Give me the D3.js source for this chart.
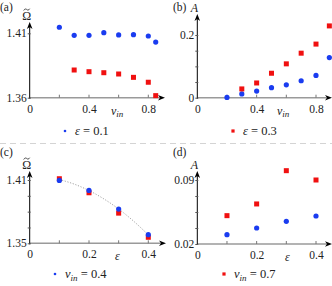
<!DOCTYPE html>
<html>
<head>
<meta charset="utf-8">
<script src="https://cdn.jsdelivr.net/npm/d3@7"></script>
<style>
  body { margin: 0; background: #fff; }
  svg text { font-family: "Liberation Serif", "DejaVu Serif", serif; fill: #222; }
</style>
</head>
<body>
<svg id="chart" width="332" height="286"></svg>
<script>
// panel (a) / (b): against v_in
const vinBlue = [0.2, 0.3, 0.4, 0.5, 0.6, 0.7, 0.8, 0.85]
const omegaBlue = [1.4147, 1.4084, 1.4084, 1.4105, 1.4087, 1.4089, 1.4079, 1.4032]
const vinRed = [0.3, 0.4, 0.5, 0.6, 0.7, 0.8, 0.85]
const omegaRed = [1.3815, 1.3802, 1.3794, 1.3784, 1.3758, 1.3720, 1.3616]

const vinB = [0.2, 0.3, 0.4, 0.5, 0.6, 0.7, 0.8, 0.89]
const ampBlue = [0.001, 0.012, 0.021, 0.032, 0.041, 0.054, 0.071, 0.128]
const vinBRed = [0.3, 0.4, 0.5, 0.6, 0.7, 0.8, 0.89]
const ampRed = [0.028, 0.047, 0.078, 0.108, 0.142, 0.171, 0.229]

// panel (c) / (d): against epsilon
const eps = [0.1, 0.2, 0.3, 0.4]
const omegaEpsBlue = [1.4096, 1.4001, 1.3824, 1.3582]
const omegaEpsRed = [1.4112, 1.3979, 1.3786, 1.3557]
const ampEpsBlue = [0.0302, 0.0375, 0.0448, 0.0506]
const ampEpsRed = [0.051, 0.0638, 0.1002, 0.09]

// fitted dotted curve in (c)
const fitEps = [0.1, 0.15, 0.2, 0.25, 0.3, 0.35, 0.4]
const fitOmega = [1.4105, 1.4061, 1.4000, 1.3921, 1.3825, 1.3711, 1.3580]

const svg = d3.select("#chart")
const BLUE = "#1a3cf0", RED = "#f01010", GREY = "#9a9a9a"

// separator
svg.append("line")
  .attr("x1", 0).attr("x2", 332).attr("y1", 143.5).attr("y2", 143.5)
  .attr("stroke", "#d4d4d4").attr("stroke-width", 1).attr("stroke-dasharray", "6,4")

function drawPanel(p) {
  const g = svg.append("g")
  const x = d3.scaleLinear().domain(p.xDomain).range(p.xRange)
  const y = d3.scaleLinear().domain(p.yDomain).range(p.yRange)
  const y0 = p.yRange[0], x0 = p.xRange[0]

  // x axis (grey line, grey ticks, black arrow)
  g.append("line").attr("x1", x0).attr("x2", p.xEnd - 5).attr("y1", y0).attr("y2", y0)
    .attr("stroke", GREY).attr("stroke-width", 1.6)
  const xAxis = d3.axisBottom(x).tickValues(p.xTicks).tickSize(0).tickPadding(7)
    .tickFormat(d => p.xLabels.includes(d) ? d3.format("")(d) : "")
  const xa = g.append("g").attr("transform", `translate(0,${y0})`).call(xAxis)
  xa.select(".domain").remove()
  xa.selectAll("text").attr("font-size", 11.5).attr("fill", "#333")
  g.selectAll(null).data(p.xTicks.filter(d => d > 0)).enter().append("line")
    .attr("x1", d => x(d)).attr("x2", d => x(d)).attr("y1", y0 - 3).attr("y2", y0)
    .attr("stroke", "#777").attr("stroke-width", 1)
  g.append("path")
    .attr("d", `M${p.xEnd},${y0} L${p.xEnd - 7},${y0 - 2.8} L${p.xEnd - 5},${y0} L${p.xEnd - 7},${y0 + 2.8} Z`)
    .attr("fill", "#000")

  // y axis (black line + arrow)
  g.append("line").attr("x1", x0).attr("x2", x0).attr("y1", y0 + 1).attr("y2", p.yEnd + 5)
    .attr("stroke", "#000").attr("stroke-width", 1)
  g.append("path")
    .attr("d", `M${x0},${p.yEnd} L${x0 - 2.8},${p.yEnd + 7} L${x0},${p.yEnd + 5} L${x0 + 2.8},${p.yEnd + 7} Z`)
    .attr("fill", "#000")
  const yAxis = d3.axisLeft(y).tickValues(p.yTicks).tickSize(3).tickPadding(1)
    .tickFormat(d => p.yLabels.includes(d) ? d3.format(p.yFmt)(d) : "")
  const ya = g.append("g").attr("transform", `translate(${x0 + 1},0)`).call(yAxis)
  ya.select(".domain").remove()
  ya.selectAll("line").attr("stroke", "#555")
  ya.selectAll("text").attr("font-size", 11.5).attr("fill", "#333")

  // panel letter
  g.append("text").attr("x", p.letterX).attr("y", p.letterY).attr("font-size", 11.5).text(p.letter)

  // y label (tilde drawn as a small wave above Omega)
  const lx = x0 - 3
  g.append("text").attr("x", lx).attr("y", p.yEnd - 2).attr("font-size", 12)
    .attr("font-style", p.yItalic ? "italic" : "normal").attr("text-anchor", "middle").text(p.yLabel)
  if (p.yTilde) {
    const ty = p.yEnd - 12.5
    g.append("path")
      .attr("d", `M${lx - 3},${ty + 1} C${lx - 2},${ty - 1} ${lx - 0.5},${ty - 0.6} ${lx},${ty} S${lx + 2},${ty + 1.2} ${lx + 3},${ty - 0.8}`)
      .attr("fill", "none").attr("stroke", "#222").attr("stroke-width", 0.8)
  }

  // x label
  const xl = g.append("text").attr("x", p.xLabelX).attr("y", y0 + 17).attr("font-size", 12)
  xl.append("tspan").attr("font-style", "italic").text(p.xLabel)
  if (p.xSub) xl.append("tspan").attr("font-style", "italic").attr("font-size", 9).attr("dy", 2.5).text(p.xSub)

  // optional fit curve
  if (p.fit) {
    g.append("path").datum(d3.zip(p.fit.x, p.fit.y))
      .attr("d", d3.line().x(d => x(d[0])).y(d => y(d[1])).curve(d3.curveMonotoneX))
      .attr("fill", "none").attr("stroke", "#999").attr("stroke-width", 0.9)
      .attr("stroke-dasharray", "1.2,1.6")
  }

  // series
  const drawSquares = (xs, ys) => g.selectAll(null).data(d3.zip(xs, ys)).enter().append("rect")
    .attr("x", d => x(d[0]) - 2.5).attr("y", d => y(d[1]) - 2.5)
    .attr("width", 5).attr("height", 5).attr("fill", RED)
  const drawDots = (xs, ys) => g.selectAll(null).data(d3.zip(xs, ys)).enter().append("circle")
    .attr("cx", d => x(d[0])).attr("cy", d => y(d[1])).attr("r", 2.6).attr("fill", BLUE)
  if (p.redFirst) { drawSquares(p.red.x, p.red.y); drawDots(p.blue.x, p.blue.y) }
  else { drawDots(p.blue.x, p.blue.y); drawSquares(p.red.x, p.red.y) }

  // legend
  const lg = g.append("g")
  if (p.legendMark === "dot") {
    lg.append("circle").attr("cx", p.legX).attr("cy", p.legY - 4).attr("r", 1.3).attr("fill", BLUE)
  } else {
    lg.append("rect").attr("x", p.legX - 1.6).attr("y", p.legY - 5.6).attr("width", 3.2).attr("height", 3.2).attr("fill", RED)
  }
  const lt = lg.append("text").attr("x", p.legX + 10).attr("y", p.legY).attr("font-size", 12.5)
  lt.append("tspan").attr("font-style", "italic").text(p.legName)
  if (p.legSub) lt.append("tspan").attr("font-style", "italic").attr("font-size", 9).attr("dy", 2.5).text(p.legSub)
  lt.append("tspan").attr("dy", p.legSub ? -2.5 : 0).text(" = " + p.legValue)
}

drawPanel({
  letter: "(a)", letterX: 0, letterY: 11,
  xDomain: [0, 0.8], xRange: [29.7, 148.3], xEnd: 165,
  yDomain: [1.36, 1.41], yRange: [97.7, 33.3], yEnd: 22,
  xTicks: [0, 0.2, 0.4, 0.6, 0.8], xLabels: [0, 0.4, 0.8],
  yTicks: [1.36, 1.41], yLabels: [1.36, 1.41], yFmt: ".2f",
  yLabel: "Ω", yTilde: true, yItalic: false, xLabel: "v", xSub: "in", xLabelX: 111,
  blue: { x: vinBlue, y: omegaBlue }, red: { x: vinRed, y: omegaRed },
  legendMark: "dot", legX: 65, legY: 135, legName: "ε", legValue: "0.1"
})

drawPanel({
  letter: "(b)", letterX: 173, letterY: 11,
  xDomain: [0, 0.8], xRange: [197.3, 316], xEnd: 332,
  yDomain: [0, 0.2], yRange: [97.7, 35], yEnd: 14,
  xTicks: [0, 0.2, 0.4, 0.6, 0.8], xLabels: [0, 0.4, 0.8],
  yTicks: [0, 0.05, 0.1, 0.15, 0.2], yLabels: [0, 0.2], yFmt: "",
  yLabel: "A", yItalic: true, xLabel: "v", xSub: "in", xLabelX: 277,
  blue: { x: vinB, y: ampBlue }, red: { x: vinBRed, y: ampRed },
  legendMark: "square", legX: 233, legY: 135, legName: "ε", legValue: "0.3"
})

drawPanel({
  letter: "(c)", letterX: 0, letterY: 156,
  xDomain: [0, 0.4], xRange: [29.7, 148.3], xEnd: 166,
  yDomain: [1.35, 1.41], yRange: [243.3, 180], yEnd: 171,
  xTicks: [0, 0.1, 0.2, 0.3, 0.4], xLabels: [0, 0.2, 0.4],
  yTicks: [1.35, 1.365, 1.38, 1.395, 1.41], yLabels: [1.35, 1.41], yFmt: ".2f",
  yLabel: "Ω", yTilde: true, yItalic: false, xLabel: "ε", xLabelX: 115,
  fit: { x: fitEps, y: fitOmega },
  redFirst: true,
  blue: { x: eps, y: omegaEpsBlue }, red: { x: eps, y: omegaEpsRed },
  legendMark: "dot", legX: 55, legY: 278, legName: "v", legSub: "in", legValue: "0.4"
})

drawPanel({
  letter: "(d)", letterX: 173, letterY: 156,
  xDomain: [0, 0.4], xRange: [197.3, 316], xEnd: 332,
  yDomain: [0.02, 0.09], yRange: [244, 180], yEnd: 171,
  xTicks: [0, 0.1, 0.2, 0.3, 0.4], xLabels: [0, 0.2, 0.4],
  yTicks: [0.02, 0.0375, 0.055, 0.0725, 0.09], yLabels: [0.02, 0.09], yFmt: ".2f",
  yLabel: "A", yItalic: true, xLabel: "ε", xLabelX: 285,
  blue: { x: eps, y: ampEpsBlue }, red: { x: eps, y: ampEpsRed },
  legendMark: "square", legX: 224, legY: 278, legName: "v", legSub: "in", legValue: "0.7"
})
</script>
</body>
</html>
